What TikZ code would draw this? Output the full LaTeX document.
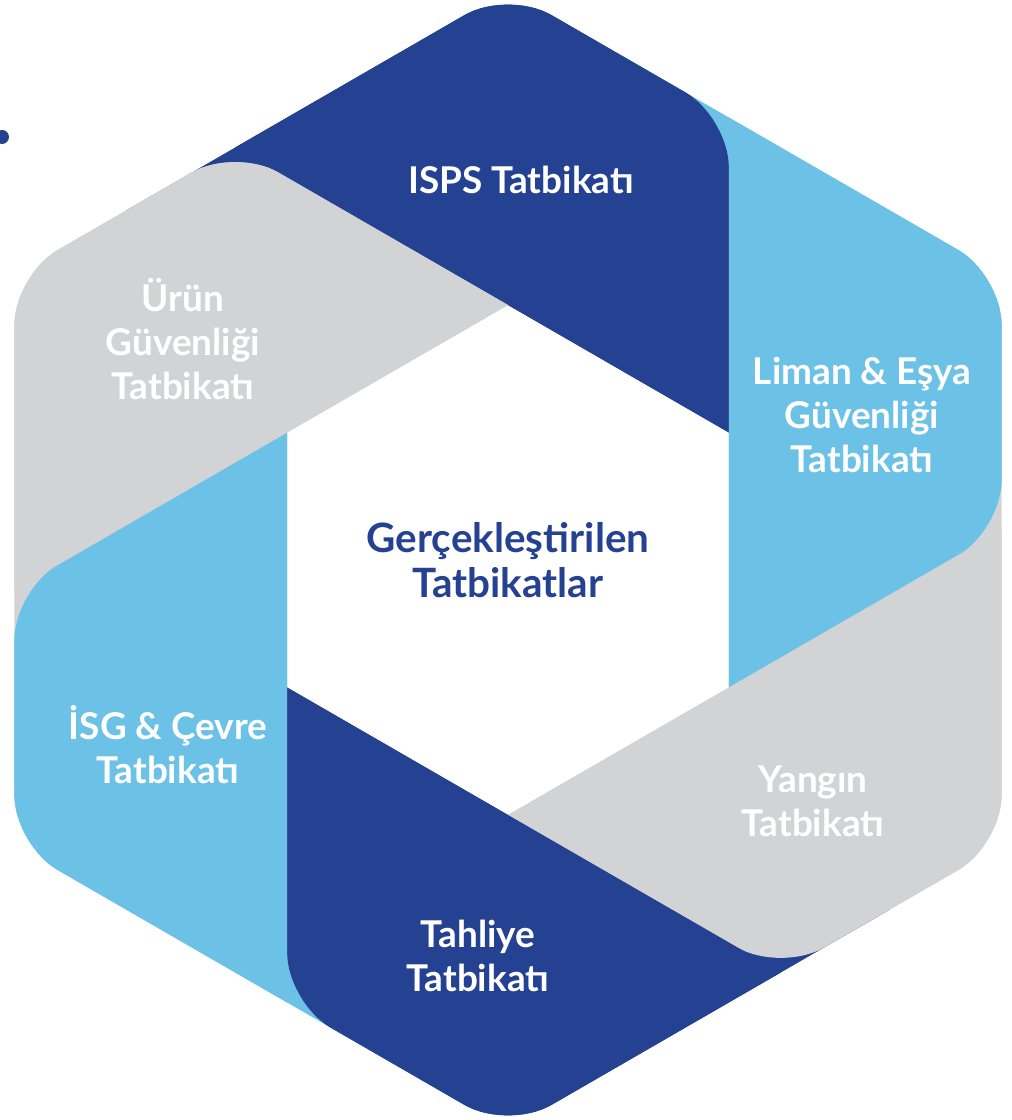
\documentclass[tikz,border=0pt]{standalone}
\usepackage{fontspec}
\setmainfont{Lato}
\definecolor{bandnavy}{RGB}{36,65,146}
\definecolor{bandsky}{RGB}{108,193,231}
\definecolor{bandgrey}{RGB}{209,211,213}
\begin{document}
\begin{tikzpicture}[x=1cm,y=1cm]
\tikzset{
  navyband/.style={fill=bandnavy},
  skyband/.style={fill=bandsky},
  greyband/.style={fill=bandgrey},
  bandlabel/.style={text=white,align=center,inner sep=0pt,font=\bfseries\fontsize{21}{25}\selectfont},
  hublabel/.style={bandlabel,text=bandnavy,font=\bfseries\fontsize{23}{26}\selectfont}
}
\useasboundingbox (-10.16,-11.2) rectangle (10.06,11.2);
\fill[navyband,rotate=0] (4.417,2.55) -- (-3.291,7) -- (-7.621,7) [rounded corners=1cm] -- (0,11.4) -- (4.417,8.85) [sharp corners] -- cycle;
\fill[skyband,rotate=-60] (4.417,2.55) -- (-3.291,7) -- (-7.621,7) [rounded corners=1cm] -- (0,11.4) -- (4.417,8.85) [sharp corners] -- cycle;
\fill[greyband,rotate=-120] (4.417,2.55) -- (-3.291,7) -- (-7.621,7) [rounded corners=1cm] -- (0,11.4) -- (4.417,8.85) [sharp corners] -- cycle;
\fill[navyband,rotate=-180] (4.417,2.55) -- (-3.291,7) -- (-7.621,7) [rounded corners=1cm] -- (0,11.4) -- (4.417,8.85) [sharp corners] -- cycle;
\fill[skyband,rotate=-240] (4.417,2.55) -- (-3.291,7) -- (-7.621,7) [rounded corners=1cm] -- (0,11.4) -- (4.417,8.85) [sharp corners] -- cycle;
\fill[greyband,rotate=-300] (4.417,2.55) -- (-3.291,7) -- (-7.621,7) [rounded corners=1cm] -- (0,11.4) -- (4.417,8.85) [sharp corners] -- cycle;
\fill[navyband,rotate=0] (4.417,2.55) -- (-5.456,8.25) [rounded corners=1cm] -- (0,11.4) -- (4.417,8.85) [sharp corners] -- cycle;
\fill[skyband,rotate=-60] (4.417,2.55) -- (-5.456,8.25) [rounded corners=1cm] -- (0,11.4) -- (4.417,8.85) [sharp corners] -- cycle;
\fill[greyband,rotate=-120] (4.417,2.55) -- (-5.456,8.25) [rounded corners=1cm] -- (0,11.4) -- (4.417,8.85) [sharp corners] -- cycle;
\fill[navyband,rotate=-180] (4.417,2.55) -- (-5.456,8.25) [rounded corners=1cm] -- (0,11.4) -- (4.417,8.85) [sharp corners] -- cycle;
\fill[skyband,rotate=-240] (4.417,2.55) -- (-5.456,8.25) [rounded corners=1cm] -- (0,11.4) -- (4.417,8.85) [sharp corners] -- cycle;
\fill[greyband,rotate=-300] (4.417,2.55) -- (-5.456,8.25) [rounded corners=1cm] -- (0,11.4) -- (4.417,8.85) [sharp corners] -- cycle;
\fill[bandnavy] (-10.12,8.46) circle (0.14);
\node[bandlabel] (n_isps) at (0.26,7.6) {ISPS Tatbikatı};
\node[bandlabel] (n_liman) at (7.08,2.9) {Liman \& Eşya\\Güvenliği\\Tatbikatı};
\node[bandlabel] (n_yangin) at (6.1,-4.82) {Yangın\\Tatbikatı};
\node[bandlabel] (n_tahliye) at (-0.6,-7.92) {Tahliye\\Tatbikatı};
\node[bandlabel] (n_isg) at (-6.8,-3.7) {İSG \& Çevre\\Tatbikatı};
\node[bandlabel] (n_urun) at (-6.5,4.42) {Ürün\\Güvenliği\\Tatbikatı};
\node[hublabel] (n_hub) at (0,0) {Gerçekleştirilen\\Tatbikatlar};
\end{tikzpicture}
\end{document}
